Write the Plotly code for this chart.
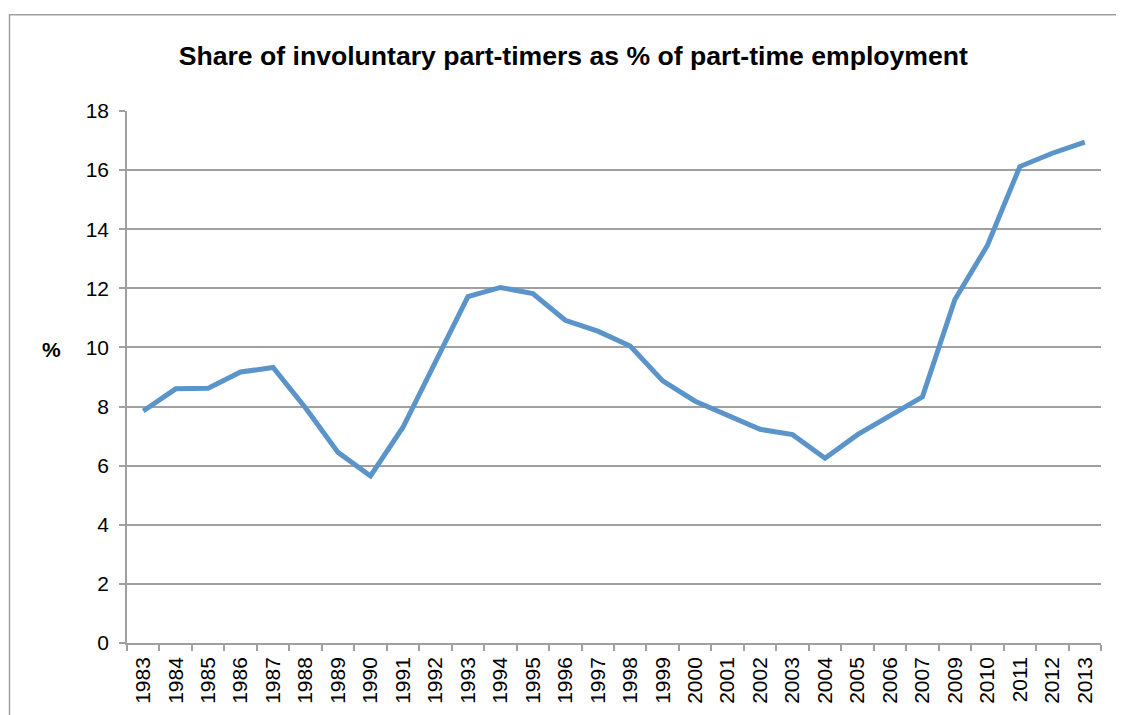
import plotly.graph_objects as go

years = ["1983", "1984", "1985", "1986", "1987", "1988", "1989", "1990", "1991", "1992",
         "1993", "1994", "1995", "1996", "1997", "1998", "1999", "2000", "2001", "2002",
         "2003", "2004", "2005", "2006", "2007", "2009", "2010", "2011", "2012", "2013"]
share = [7.85, 8.6, 8.62, 9.17, 9.32, 7.95, 6.45, 5.65, 7.3, 9.5,
         11.72, 12.03, 11.82, 10.92, 10.55, 10.05, 8.87, 8.18, 7.72, 7.23,
         7.05, 6.25, 7.05, 7.68, 8.33, 11.62, 13.45, 16.12, 16.57, 16.95]
y_ticks = [0, 2, 4, 6, 8, 10, 12, 14, 16, 18]

# page body has an 8px margin; figure coordinates = screen - 8
OFF = 8
W, H = 1124 - OFF, 715 - OFF
L = 127 - OFF
R = W - (1101 - OFF)
T = 110.5 - OFF
B = H - (643.5 - OFF)
pw, ph = W - L - R, H - T - B

fig = go.Figure()
fig.add_trace(go.Scatter(
    x=years, y=share, mode="lines",
    line=dict(color="#5b94c9", width=5),
    hoverinfo="x+y", showlegend=False,
))

fig.update_layout(
    width=W, height=H,
    margin=dict(l=L, r=R, t=T, b=B, pad=0),
    paper_bgcolor="white", plot_bgcolor="white",
    font=dict(family="Liberation Sans, Arial, sans-serif", color="black", size=21),
    title=dict(
        text="<b>Share of involuntary part-timers as % of part-time employment</b>",
        x=(573.3 - OFF - L) / pw, xref="paper", xanchor="center",
        y=1 - (56 - OFF) / H, yref="container", yanchor="middle",
        font=dict(size=26.6, color="black"),
    ),
    xaxis=dict(
        type="category", tickson="boundaries", tickangle=-90,
        ticks="outside", ticklen=6, tickcolor="#a0a0a0", tickwidth=1.5,
        showline=True, linecolor="#a0a0a0", linewidth=1.5,
        showgrid=False, tickfont=dict(size=21), ticklabelstandoff=4,
        range=[-0.5, len(years) - 0.5],
    ),
    yaxis=dict(
        range=[0, 18], tickvals=y_ticks,
        ticks="outside", ticklen=6, tickcolor="#a0a0a0", tickwidth=1.5,
        showline=True, linecolor="#a0a0a0", linewidth=1.5,
        showgrid=True, gridcolor="#a0a0a0", gridwidth=1.5,
        zeroline=False, tickfont=dict(size=21), ticklabelstandoff=6,
    ),
    annotations=[dict(
        text="<b>%</b>", xref="paper", yref="paper",
        x=(51.3 - OFF - L) / pw, y=(643.5 - 349) / ph,
        xanchor="center", yanchor="middle", showarrow=False,
        font=dict(size=21, color="black"),
    )],
    shapes=[dict(
        type="rect", xref="paper", yref="paper",
        x0=(9.5 - OFF - L) / pw, x1=1.2, y0=-0.3, y1=(643.5 - 14) / ph,
        line=dict(color="#a0a0a0", width=1.5), fillcolor="rgba(0,0,0,0)",
        layer="below",
    )],
)

fig.write_html("out.html")
